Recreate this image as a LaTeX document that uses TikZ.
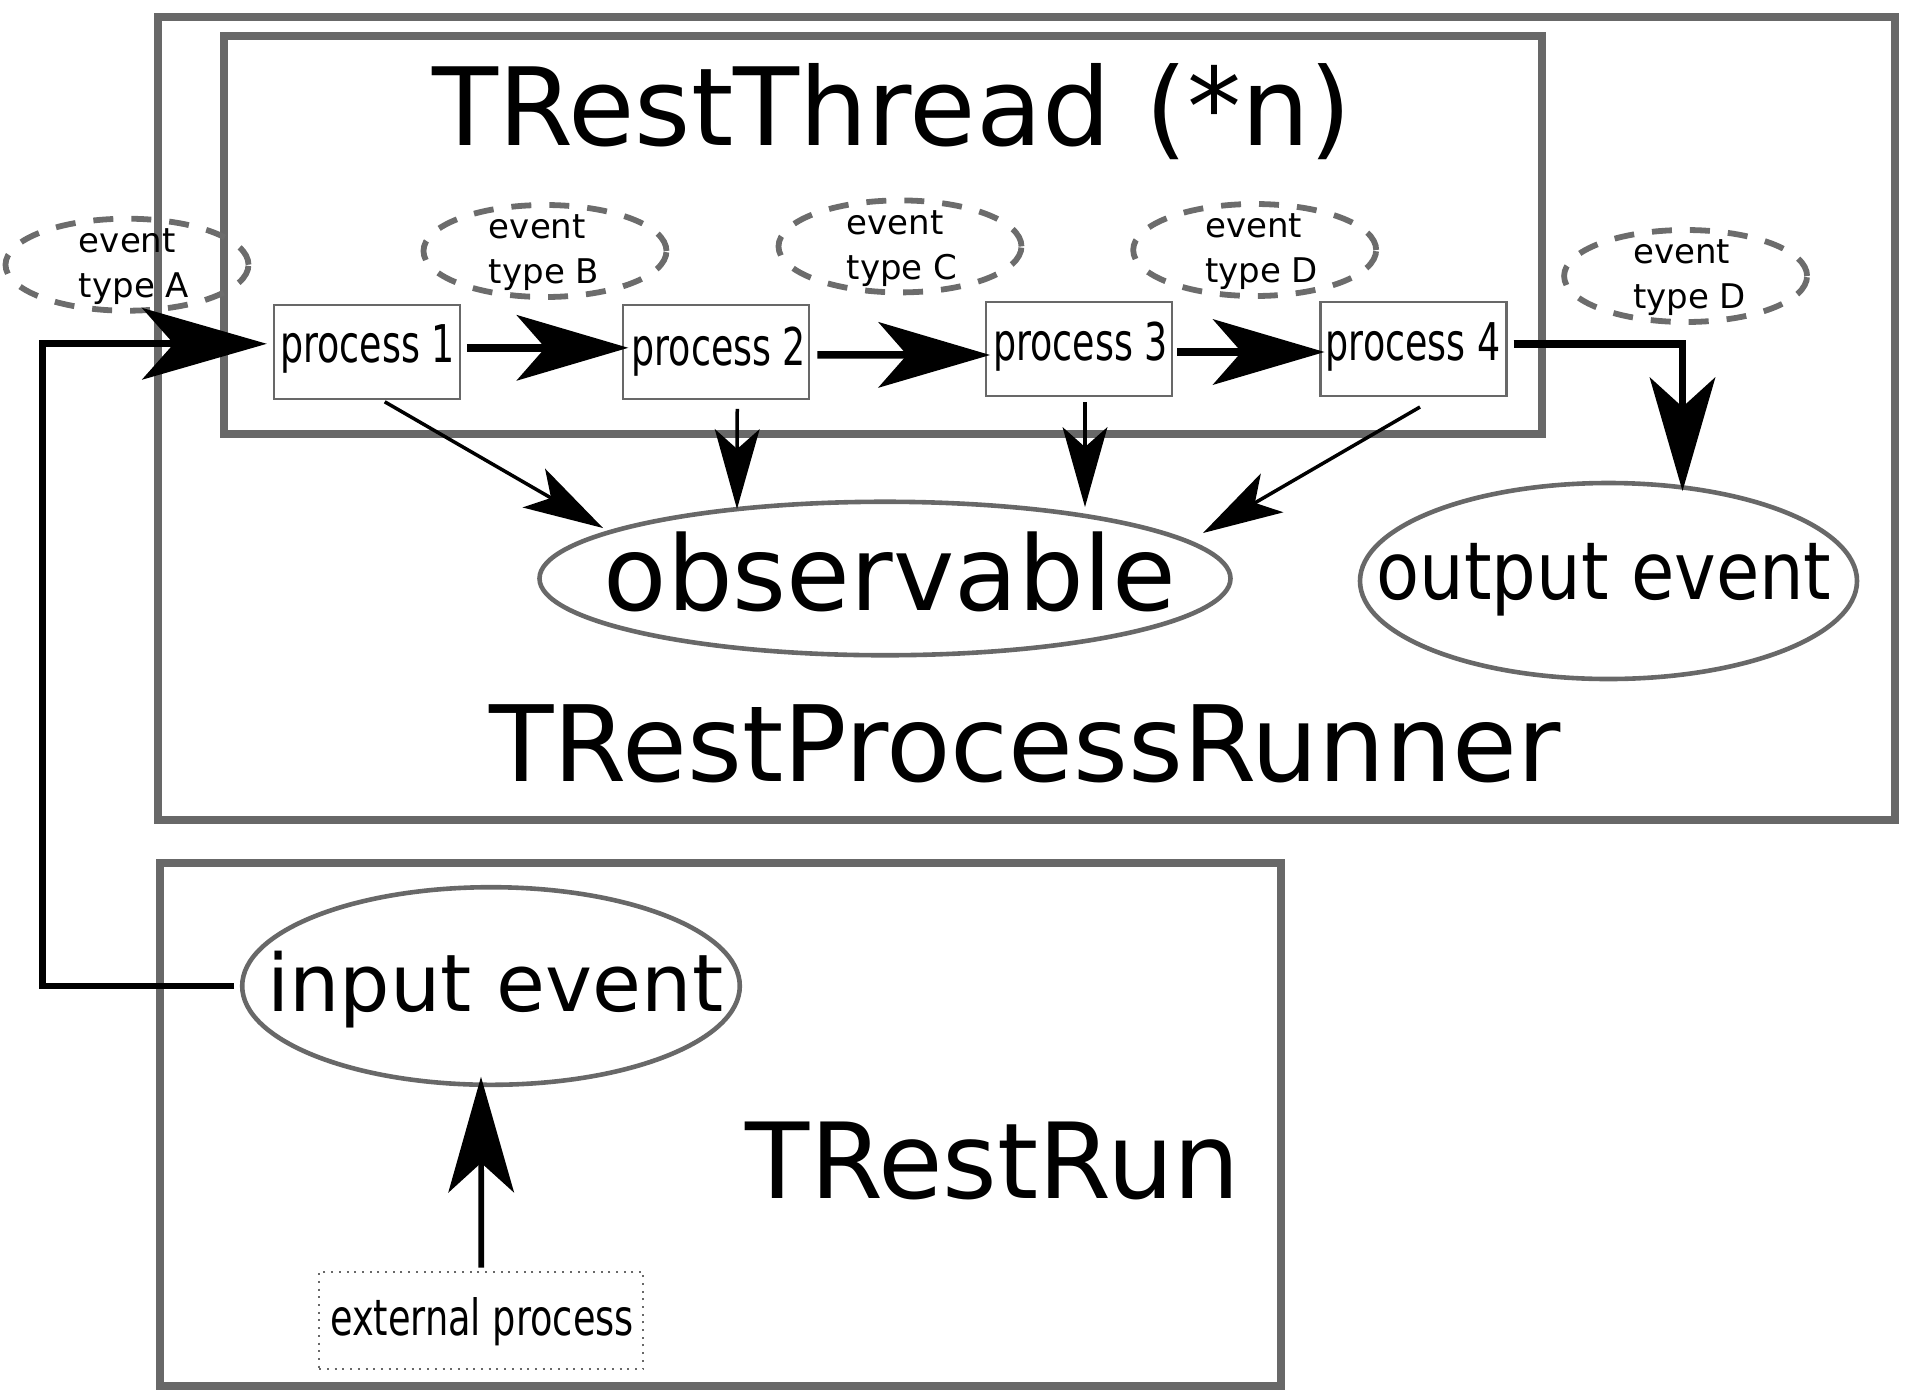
\documentclass[tikz,border=0pt]{standalone}
\usepackage{fontspec}
\setmainfont{DejaVu Sans}
\usepackage{graphicx}
\usetikzlibrary{arrows.meta,shapes.geometric,calc}
\definecolor{boxgray}{RGB}{104,104,104}
\definecolor{dashgray}{RGB}{108,108,108}
\begin{document}
\begin{tikzpicture}[x=0.5pt,y=-0.5pt,
  container/.style={draw=boxgray, line width=4pt, rectangle, inner sep=0pt, outer sep=0pt},
  procbox/.style={draw=boxgray, line width=1.2pt, rectangle, minimum width=93pt, minimum height=47pt, inner sep=0pt, outer sep=0pt},
  evell/.style={draw=dashgray, line width=2.9pt, dash pattern=on 10pt off 9pt, ellipse, minimum width=121.5pt, minimum height=46pt, inner sep=0pt, outer sep=0pt},
  solidell/.style={draw=boxgray, line width=2.3pt, ellipse, inner sep=0pt, outer sep=0pt},
  evtxt/.style={align=left, inner sep=0pt, font=\fontsize{17pt}{22.5pt}\selectfont},
  proctxt/.style={anchor=base, inner sep=0pt, font=\fontsize{26pt}{30pt}\selectfont},
  exttxt/.style={anchor=base, inner sep=0pt, font=\fontsize{25pt}{30pt}\selectfont},
  bigtxt/.style={anchor=base, inner sep=0pt},
  bigarrow/.style={line width=3.8pt, -{Stealth[length=56pt, width=33pt, inset=14.5pt, line width=0pt]}},
  smallarrow/.style={line width=1.75pt, -{Stealth[length=40pt, width=22.5pt, inset=10pt, line width=0pt]}},
]
\useasboundingbox (0,0) rectangle (1913,1399);

% containers
\node[container, minimum width=868.75pt, minimum height=401.7pt] (runner) at (1026.25,418.3) {};
\node[container, minimum width=659pt, minimum height=198.75pt] (thread) at (883,234.75) {};
\node[container, minimum width=560.5pt, minimum height=261.25pt] (run) at (720.5,1124.25) {};

% titles
\node[bigtxt, font=\fontsize{54pt}{60pt}\selectfont] (threadlbl) at (892,145) {TRestThread (*n)};
\node[bigtxt, font=\fontsize{52.7pt}{60pt}\selectfont] (runnerlbl) at (1025,781) {TRestProcessRunner};
\node[bigtxt, font=\fontsize{52.5pt}{60pt}\selectfont] (runlbl) at (993,1198) {TRestRun};

% event type ellipses
\node[evell] (eA) at (127,264.7) {};
\node[evtxt] (eAt) at ($(eA)+(7,2)$) {event\\type A};
\node[evell] (eB) at (545,251) {};
\node[evtxt] (eBt) at ($(eB)+(-1,2)$) {event\\type B};
\node[evell] (eC) at (900,246.4) {};
\node[evtxt] (eCt) at ($(eC)+(2,2)$) {event\\type C};
\node[evell] (eD) at (1254.7,250) {};
\node[evtxt] (eDt) at ($(eD)+(7,2)$) {event\\type D};
\node[evell] (eE) at (1685.6,276) {};
\node[evtxt] (eEt) at ($(eE)+(4,2)$) {event\\type D};

% processes
\node[procbox] (p1) at (366.75,351.8) {};
\node[proctxt] (p1t) at (367.5,362.7) {\scalebox{0.70}[1]{process 1}};
\node[procbox] (p2) at (716.25,351.8) {};
\node[proctxt] (p2t) at (718.8,365) {\scalebox{0.70}[1]{process 2}};
\node[procbox] (p3) at (1079,349) {};
\node[proctxt] (p3t) at (1080.6,360) {\scalebox{0.70}[1]{process 3}};
\node[procbox] (p4) at (1413.5,349) {};
\node[proctxt] (p4t) at (1413,360) {\scalebox{0.70}[1]{process 4}};

% observable / output / input
\node[solidell, minimum width=345.5pt, minimum height=76.75pt] (obs) at (885,578.5) {};
\node[bigtxt, font=\fontsize{51.8pt}{60pt}\selectfont] (obst) at (890,610) {observable};
\node[solidell, minimum width=248.5pt, minimum height=98pt] (out) at (1608.5,581) {};
\node[bigtxt, font=\fontsize{40pt}{48pt}\selectfont] (outt) at (1604,599) {\scalebox{0.88}[1]{output event}};
\node[solidell, minimum width=248.8pt, minimum height=98.8pt] (inp) at (491,986) {};
\node[bigtxt, font=\fontsize{39.75pt}{48pt}\selectfont] (inpt) at (495.3,1011.7) {input event};

% external process
\node[draw=boxgray, line width=1pt, dash pattern=on 1pt off 2.85pt, rectangle, minimum width=162pt, minimum height=48.65pt, inner sep=0pt, outer sep=0pt] (ext) at (481.3,1320.3) {};
\node[exttxt] (extt) at (482,1335) {\scalebox{0.734}[1]{external process}};

% connectors
\draw[bigarrow, line width=3.4pt, -{Stealth[length=62.5pt, width=36pt, inset=16pt, line width=0pt]}]
  ($(inp.west)+(-8,0)$) -- ($(inp.west)+(-200,0)$) |- ($(p1.west)+(-7,-8)$);
\draw[bigarrow] ($(p1.east)+(7,-4)$) -- ($(p2.west)+(5,-4)$);
\draw[bigarrow] ($(p2.east)+(8,3)$) -- ($(p3.west)+(4,6)$);
\draw[bigarrow] ($(p3.east)+(5,3)$) -- ($(p4.west)+(4,3)$);
\draw[bigarrow, -{Stealth[length=57pt, width=33pt, inset=15pt, line width=0pt]}]
  ($(p4.east)+(7,-5)$) -| ($(out.center)+(74,-90)$);
\draw[line width=2.85pt, -{Stealth[length=58pt, width=33pt, inset=15pt, line width=0pt]}]
  ($(ext.north)+(0,-4)$) -- ($(inp.south)+(-10,-8)$);

\draw[smallarrow] ($(p1.south)+(18,3)$) -- ($(obs.center)+(-282,-50.5)$);
\draw[smallarrow] ($(p2.south)+(21,10)$) -- ($(obs.center)+(-148,-69.5)$);
\draw[smallarrow] ($(p3.south)+(6,6)$) -- ($(obs.center)+(200,-71.5)$);
\draw[smallarrow] ($(p4.south)+(6.5,11)$) -- ($(obs.center)+(318,-45.5)$);
\end{tikzpicture}
\end{document}
